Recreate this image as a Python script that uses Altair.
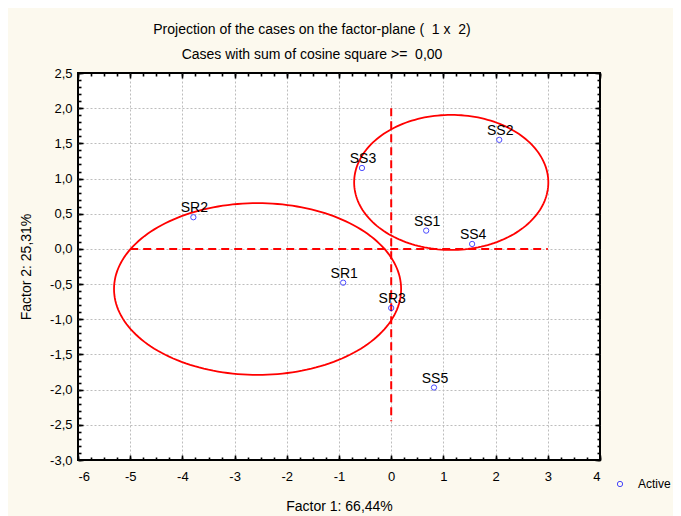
import altair as alt
import pandas as pd
import numpy as np

# ---- data ----
case_labels = ["SS1", "SS2", "SS3", "SS4", "SS5", "SR1", "SR2", "SR3"]
factor1 = [0.67, 2.07, -0.56, 1.55, 0.82, -0.92, -3.79, 0.00]
factor2 = [0.26, 1.55, 1.15, 0.07, -1.97, -0.48, 0.45, -0.84]
status = ["Active"] * 8

ell_names = ["SS group", "SR group"]
ell_cx = [1.15, -2.56]
ell_cy = [0.945, -0.57]
ell_rx = [1.86, 2.75]
ell_ry = [0.96, 1.22]

ref_x1 = [-5.0, 0.0]
ref_x2 = [3.0, 0.0]
ref_y1 = [0.0, 2.0]
ref_y2 = [0.0, -2.45]

x_major = [-6, -5, -4, -3, -2, -1, 0, 1, 2, 3, 4]
y_major = [-3.0, -2.5, -2.0, -1.5, -1.0, -0.5, 0.0, 0.5, 1.0, 1.5, 2.0, 2.5]
x_minor = list(np.arange(-6, 4.001, 0.25))
y_minor = list(np.round(np.arange(-3, 2.5001, 0.1), 2))

W, H = 522, 387
FONT = "Liberation Sans"

df = pd.DataFrame({"case": case_labels, "f1": factor1, "f2": factor2, "status": status})

ang = np.linspace(0, 2 * np.pi, 181)
rows = []
for n, cx, cy, rx, ry in zip(ell_names, ell_cx, ell_cy, ell_rx, ell_ry):
    for i, a in enumerate(ang):
        rows.append({"grp": n, "i": i, "ex": cx + rx * np.cos(a), "ey": cy + ry * np.sin(a)})
ell_df = pd.DataFrame(rows)
ref_df = pd.DataFrame({"x1": ref_x1, "x2": ref_x2, "y1": ref_y1, "y2": ref_y2})

xs = alt.Scale(domain=[-6, 4], nice=False, zero=False)
ys = alt.Scale(domain=[-3, 2.5], nice=False, zero=False)

lab_x = "replace(format(datum.value, 'd'), '\u2212', '-')"
lab_y = "replace(replace(format(datum.value, '.1f'), '.', ','), '\u2212', '-')"

# main layer: labels, titles, points, legend
points = alt.Chart(df).mark_point(shape="circle", filled=False, size=28, strokeWidth=1).encode(
    x=alt.X("f1:Q", scale=xs, axis=alt.Axis(
        orient="bottom", values=x_major, grid=False, ticks=False, domain=False,
        labelExpr=lab_x, labelFont=FONT, labelFontSize=13, labelColor="black", labelPadding=10,
        title="Factor 1: 66,44%", titleFont=FONT, titleFontSize=14, titleFontWeight="normal",
        titleColor="black", titlePadding=16)),
    y=alt.Y("f2:Q", scale=ys, axis=alt.Axis(
        orient="left", values=y_major, grid=False, ticks=False, domain=False,
        labelExpr=lab_y, labelFont=FONT, labelFontSize=13, labelColor="black", labelPadding=6,
        title="Factor 2: 25,31%", titleFont=FONT, titleFontSize=14, titleFontWeight="normal",
        titleColor="black", titlePadding=16)),
    color=alt.Color("status:N", scale=alt.Scale(domain=["Active"], range=["#0000ff"]),
                    legend=alt.Legend(title=None, orient="none", legendX=536, legendY=405,
                                      symbolType="circle", symbolFillColor="transparent",
                                      symbolStrokeWidth=1, symbolSize=28, labelFont=FONT,
                                      labelFontSize=12, labelColor="black", labelOffset=12,
                                      padding=0)),
)

texts = alt.Chart(df).mark_text(font=FONT, fontSize=14, color="black", align="center",
                                baseline="alphabetic", dy=-5, dx=1).encode(
    x=alt.X("f1:Q", scale=xs, axis=None),
    y=alt.Y("f2:Q", scale=ys, axis=None),
    text="case:N",
)

ellipses = alt.Chart(ell_df).mark_line(color="#ff0000", strokeWidth=1.8).encode(
    x=alt.X("ex:Q", scale=xs, axis=None),
    y=alt.Y("ey:Q", scale=ys, axis=None),
    detail="grp:N",
    order="i:Q",
)

rules = alt.Chart(ref_df).mark_rule(color="#ff0000", strokeWidth=2, strokeDash=[8, 5]).encode(
    x=alt.X("x1:Q", scale=xs, axis=None),
    x2="x2:Q",
    y=alt.Y("y1:Q", scale=ys, axis=None),
    y2="y2:Q",
)

# grid layer (interior lines only)
grid = alt.Chart(df).mark_point(opacity=0).encode(
    x=alt.X("f1:Q", scale=xs, title=None, axis=alt.Axis(
        orient="bottom", values=x_major[1:-1], grid=True, gridColor="#bdbdbd", gridDash=[2, 2],
        gridWidth=1, ticks=False, labels=False, domain=False)),
    y=alt.Y("f2:Q", scale=ys, title=None, axis=alt.Axis(
        orient="left", values=y_major[1:-1], grid=True, gridColor="#bdbdbd", gridDash=[2, 2],
        gridWidth=1, ticks=False, labels=False, domain=False)),
)


def tick_layer(xorient, yorient, xvals, yvals, size):
    return alt.Chart(df).mark_point(opacity=0).encode(
        x=alt.X("f1:Q", scale=xs, title=None, axis=alt.Axis(
            orient=xorient, offset=-H, values=xvals, tickSize=size, tickWidth=1.6,
            tickColor="black", labels=False, domain=False, grid=False)),
        y=alt.Y("f2:Q", scale=ys, title=None, axis=alt.Axis(
            orient=yorient, offset=-W, values=yvals, tickSize=size, tickWidth=1.6,
            tickColor="black", labels=False, domain=False, grid=False)),
    )


t1 = tick_layer("top", "right", x_major, y_major, 5)      # inward ticks on bottom / left
t2 = tick_layer("top", "right", x_minor, y_minor, 3)
t3 = tick_layer("bottom", "left", x_major, y_major, 5)    # inward ticks on top / right
t4 = tick_layer("bottom", "left", x_minor, y_minor, 3)

chart = alt.layer(grid, t1, t2, t3, t4, ellipses, rules, points, texts).resolve_axis(
    x="independent", y="independent"
).properties(
    width=W,
    height=H,
    title=alt.TitleParams(
        text="Projection of the cases on the factor-plane ( \u00a01 x \u00a02)",
        subtitle="Cases with sum of cosine square >= \u00a00,00",
        anchor="middle", dx=-27, font=FONT, fontSize=14, fontWeight="normal", color="black",
        subtitleFont=FONT, subtitleFontSize=14, subtitleColor="black", subtitlePadding=11,
        offset=5,
    ),
    padding={"left": 70, "top": 65, "right": 73, "bottom": 56},
    autosize=alt.AutoSizeParams(type="none"),
    background="#fcf9ee",
).configure_view(stroke="black", strokeWidth=2, fill="white")

chart.save("out.html", embed_options={"renderer": "svg", "actions": False})
